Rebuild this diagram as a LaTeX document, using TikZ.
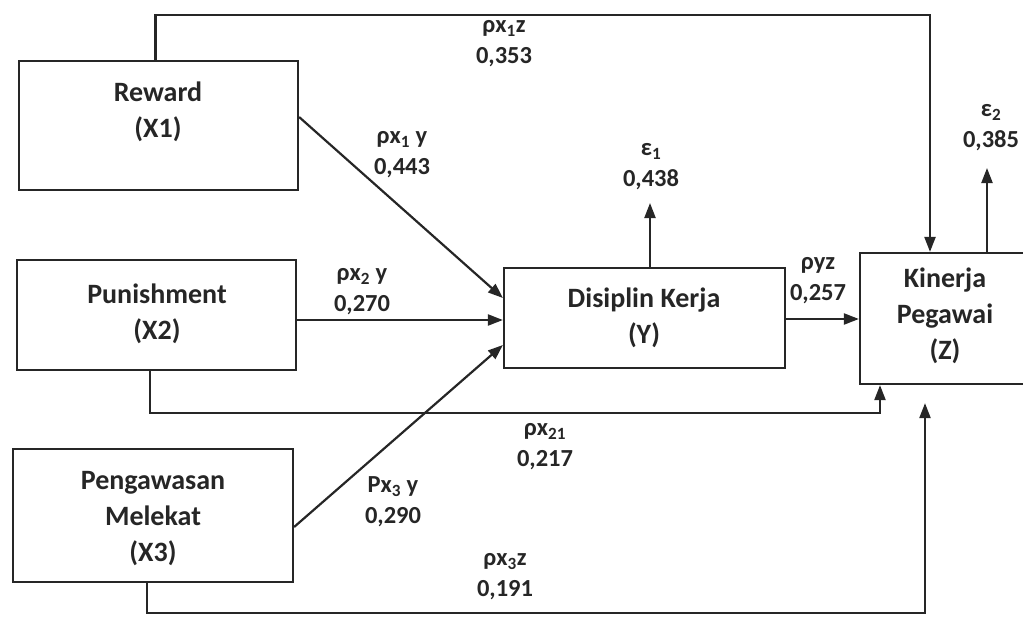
\documentclass[tikz,border=0pt]{standalone}
\usepackage{fontspec}
\setmainfont{Carlito}
\usetikzlibrary{arrows.meta}
\begin{document}
\begin{tikzpicture}[x=1pt,y=-1pt,
  box/.style={draw=black!85,line width=2.2pt,inner sep=0pt},
  boxtext/.style={align=center,font=\bfseries\fontsize{28}{36}\selectfont,text=black!85},
  lab/.style={align=center,font=\bfseries\fontsize{24.5}{31}\selectfont,text=black!85},
  arr/.style={draw=black!85,line width=2.2pt,-{Triangle[length=15pt,width=11pt]}},
  ln/.style={draw=black!85,line width=2.2pt}]
\useasboundingbox (0,0) rectangle (1023,619);
\clip (0,0) rectangle (1023,619);
% boxes
\node[box,minimum width=279pt,minimum height=129pt] (x1) at (158.5,125.5) {};
\node[box,minimum width=279pt,minimum height=110pt] (x2) at (156.5,315) {};
\node[box,minimum width=280pt,minimum height=133pt] (x3) at (153,515.5) {};
\node[box,minimum width=281pt,minimum height=100pt] (y) at (644.5,318) {};
\node[box,minimum width=170pt,minimum height=131pt] (z) at (945,318.5) {};
% box texts
\node[boxtext] (tx1) at (158,112) {Reward\\(X1)};
\node[boxtext] (tx2) at (157,314) {Punishment\\(X2)};
\node[boxtext] (tx3) at (153,519) {Pengawasan\\Melekat\\(X3)};
\node[boxtext] (ty) at (644,318) {Disiplin Kerja\\(Y)};
\node[boxtext] (tz) at (945,316) {Kinerja\\Pegawai\\(Z)};
% helper coordinates
\coordinate (t1) at (930,15);
\coordinate (b2) at (880,413);
\coordinate (b3) at (925,613);
\coordinate (e1) at (650,203);
\coordinate (e2) at (987,168);
% connectors
\draw[arr] ([xshift=-3pt]x1.north) |- (t1) -- (t1 |- z.north);
\draw[arr] ([yshift=8.5pt]x1.east) -- ([yshift=20pt]y.west);
\draw[arr] ([yshift=-5pt]x2.east) -- ([yshift=-5pt]x2.east -| y.west);
\draw[arr] ([yshift=-11.5pt]x3.east) -- ([yshift=-27pt]y.west);
\draw[arr] ([yshift=-1pt]y.east) -- ([yshift=-1pt]y.east -| z.west);
\draw[arr] (e1 |- y.north) -- (e1);
\draw[arr] (e2 |- z.north) -- (e2);
\draw[arr] ([xshift=-6.5pt]x2.south) |- (b2) -- (b2 |- z.south);
\draw[arr,shorten >=18pt] ([xshift=-6pt]x3.south) |- (b3) -- (b3 |- z.south);
% labels
\node[lab] (l1) at (504,44) {ρx\textsubscript{1}z\\0,353};
\node[lab] (l2) at (402,155) {ρx\textsubscript{1} y\\0,443};
\node[lab] (l3) at (362,292) {ρx\textsubscript{2} y\\0,270};
\node[lab] (l4) at (545,447) {ρx\textsubscript{21}\\0,217};
\node[lab] (l5) at (393,502) {Px\textsubscript{3} y\\0,290};
\node[lab] (l6) at (505,577) {ρx\textsubscript{3}z\\0,191};
\node[lab] (l7) at (818,281) {ρyz\\0,257};
\node[lab] (l8) at (651,167) {ε\textsubscript{1}\\0,438};
\node[lab] (l9) at (991,128) {ε\textsubscript{2}\\0,385};
\end{tikzpicture}
\end{document}
